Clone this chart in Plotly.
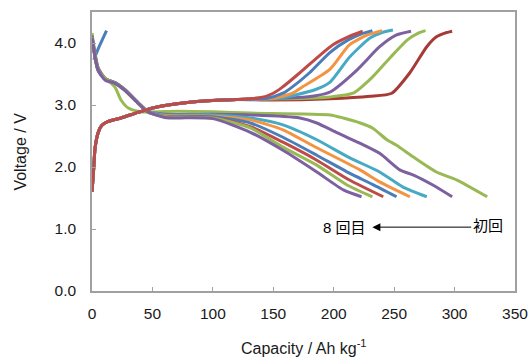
import plotly.graph_objects as go

# ---- colours (Office-style palette) ----
BLUE = "#4A7EBB"
RED = "#BE4B48"
DARK_RED = "#A63A36"
GREEN = "#98B954"
PURPLE = "#7D60A0"
CYAN = "#46AAC5"
ORANGE = "#F39443"

# ---- initial short charge from OCV ----
init_cap = [1.5, 5, 8, 12]
init_v = [3.73, 3.90, 4.03, 4.20]

# ---- charge curves: shared low-capacity region ----
chg_start_cap = [0, 1.5, 2.5, 5, 8, 13, 24, 38, 52, 79, 96, 120]
chg_start_v = [1.60, 2.00, 2.30, 2.55, 2.67, 2.73, 2.79, 2.88, 2.96, 3.04, 3.07, 3.09]

# charge, cycle 1 .. 7 (end of charge)
chg1_cap = [150, 197, 230, 248, 263, 277, 285, 292, 298]
chg1_v = [3.08, 3.10, 3.14, 3.19, 3.52, 3.94, 4.10, 4.16, 4.19]
chg2_cap = [160, 197, 216, 232, 247, 261, 270, 276]
chg2_v = [3.10, 3.13, 3.19, 3.45, 3.77, 4.05, 4.16, 4.20]
chg3_cap = [170, 185, 197, 219, 238, 252, 264]
chg3_v = [3.12, 3.15, 3.21, 3.56, 3.94, 4.13, 4.19]
chg4_cap = [155, 170, 185, 197, 213, 230, 240, 249]
chg4_v = [3.11, 3.17, 3.25, 3.37, 3.77, 4.08, 4.17, 4.21]
chg5_cap = [150, 166, 174, 197, 213, 228, 240]
chg5_v = [3.11, 3.19, 3.29, 3.58, 3.97, 4.13, 4.20]
chg6_cap = [145, 158, 165, 180, 197, 212, 222, 232]
chg6_v = [3.11, 3.19, 3.28, 3.52, 3.85, 4.05, 4.14, 4.20]
chg7_cap = [140, 150, 157, 172, 189, 200, 212, 224]
chg7_v = [3.12, 3.19, 3.28, 3.52, 3.81, 3.98, 4.10, 4.19]

# ---- discharge curves, cycle 1 .. 8 ----
dis1_cap = [0, 5, 11, 19, 24, 30, 40, 71, 100, 131, 197, 208, 222, 232, 244, 252, 266, 285, 302, 327]
dis1_v = [4.16, 3.61, 3.43, 3.29, 3.08, 2.95, 2.89, 2.90, 2.89, 2.87, 2.84, 2.79, 2.71, 2.63, 2.44, 2.35, 2.16, 1.92, 1.79, 1.52]
dis_start_cap = [0, 5, 11, 19, 27, 38, 46]
dis2_v_start = [4.12, 3.60, 3.42, 3.36, 3.25, 3.04, 2.90]
dis2_cap = [60, 100, 131, 172, 186, 203, 222, 238, 255, 266, 282, 298]
dis2_v = [2.85, 2.85, 2.84, 2.79, 2.71, 2.55, 2.38, 2.22, 1.95, 1.87, 1.71, 1.52]
dis3_v_start = [4.10, 3.58, 3.42, 3.36, 3.25, 3.04, 2.90]
dis3_cap = [60, 100, 131, 158, 186, 213, 238, 257, 277]
dis3_v = [2.84, 2.84, 2.79, 2.68, 2.44, 2.15, 1.92, 1.68, 1.52]
dis4_v_start = [4.09, 3.57, 3.42, 3.36, 3.25, 3.04, 2.90]
dis4_cap = [60, 100, 131, 158, 186, 222, 238, 263]
dis4_v = [2.83, 2.82, 2.76, 2.60, 2.31, 1.95, 1.76, 1.52]
dis5_v_start = [4.08, 3.57, 3.42, 3.36, 3.25, 3.04, 2.90]
dis5_cap = [60, 100, 131, 158, 186, 213, 232, 252]
dis5_v = [2.82, 2.81, 2.71, 2.48, 2.19, 1.90, 1.72, 1.52]
dis6_v_start = [4.08, 3.56, 3.42, 3.35, 3.24, 3.03, 2.89]
dis6_cap = [60, 100, 131, 158, 186, 213, 241]
dis6_v = [2.81, 2.80, 2.65, 2.40, 2.11, 1.79, 1.52]
dis7_v_start = [4.08, 3.56, 3.42, 3.35, 3.24, 3.03, 2.89]
dis7_cap = [60, 100, 131, 158, 186, 211, 232]
dis7_v = [2.81, 2.79, 2.63, 2.32, 2.03, 1.71, 1.52]
dis8_v_start = [4.08, 3.56, 3.40, 3.35, 3.24, 3.03, 2.89]
dis8_cap = [60, 100, 131, 158, 186, 208, 223]
dis8_v = [2.80, 2.78, 2.56, 2.27, 1.92, 1.63, 1.52]

x_ticks = [0, 50, 100, 150, 200, 250, 300, 350]
y_ticks = [0.0, 1.0, 2.0, 3.0, 4.0]

LW = 3
fig = go.Figure()


def add(cap, v, color):
    fig.add_trace(go.Scatter(
        x=cap, y=v, mode="lines",
        line=dict(color=color, width=LW, shape="spline", smoothing=0.6),
        showlegend=False, hoverinfo="skip"))


discharges = [
    (dis1_cap, dis1_v, GREEN),
    (dis_start_cap + dis2_cap, dis2_v_start + dis2_v, PURPLE),
    (dis_start_cap + dis3_cap, dis3_v_start + dis3_v, CYAN),
    (dis_start_cap + dis4_cap, dis4_v_start + dis4_v, ORANGE),
    (dis_start_cap + dis5_cap, dis5_v_start + dis5_v, BLUE),
    (dis_start_cap + dis6_cap, dis6_v_start + dis6_v, RED),
    (dis_start_cap + dis7_cap, dis7_v_start + dis7_v, GREEN),
    (dis_start_cap + dis8_cap, dis8_v_start + dis8_v, PURPLE),
]
charges = [
    (chg1_cap, chg1_v, DARK_RED),
    (chg2_cap, chg2_v, GREEN),
    (chg3_cap, chg3_v, PURPLE),
    (chg4_cap, chg4_v, CYAN),
    (chg5_cap, chg5_v, ORANGE),
    (chg6_cap, chg6_v, BLUE),
    (chg7_cap, chg7_v, RED),
]

add(init_cap, init_v, BLUE)
for cap, v, c in discharges:
    add(cap, v, c)
for cap, v, c in charges:
    add(chg_start_cap + cap, chg_start_v + v, c)

FONT = "Liberation Sans, Arial, Noto Sans CJK JP, sans-serif"
AXIS_COLOR = "#A0A0A0"

fig.update_layout(
    width=528, height=357,
    margin=dict(l=92, r=13, t=12, b=66),
    paper_bgcolor="white", plot_bgcolor="white",
    font=dict(family=FONT, size=15, color="#1a1a1a"),
    xaxis=dict(range=[0, 350], tickvals=x_ticks, ticktext=[str(t) for t in x_ticks],
               showgrid=False, zeroline=False, showline=True, mirror=True,
               linecolor=AXIS_COLOR, linewidth=1.5, ticks="inside", ticklen=4,
               tickcolor=AXIS_COLOR, tickfont=dict(size=15.5), ticklabelstandoff=8,
               ticklabeloverflow="allow", automargin=False),
    yaxis=dict(range=[0, 4.5], tickvals=y_ticks, ticktext=[f"{t:.1f}" for t in y_ticks],
               showgrid=False, zeroline=False, showline=True, mirror=True,
               linecolor=AXIS_COLOR, linewidth=1.5, ticks="inside", ticklen=4,
               tickcolor=AXIS_COLOR, tickfont=dict(size=15.5), ticklabelstandoff=11,
               ticklabeloverflow="allow", automargin=False),
)

# axis titles
fig.add_annotation(text="Capacity / Ah kg<sup>-1</sup>", xref="paper", yref="paper",
                   x=0.5, y=-0.2, yanchor="middle", showarrow=False,
                   font=dict(size=16, family=FONT))
fig.add_annotation(text="Voltage / V", xref="paper", yref="paper",
                   x=-0.17, y=0.5, xanchor="center", textangle=-90, showarrow=False,
                   font=dict(size=16, family=FONT))

# cycle direction arrow
fig.add_annotation(x=232, y=1.03, ax=315, ay=1.03, xref="x", yref="y",
                   axref="x", ayref="y", showarrow=True, arrowhead=2,
                   arrowsize=1.6, arrowwidth=1, arrowcolor="black", text="")
fig.add_annotation(x=228, y=1.03, xref="x", yref="y", text="8 回目",
                   xanchor="right", showarrow=False, font=dict(size=15, color="black"))
fig.add_annotation(x=314, y=1.06, xref="x", yref="y", text="初回",
                   xanchor="left", showarrow=False, font=dict(size=15, color="black"))

fig.write_html("out.html")
